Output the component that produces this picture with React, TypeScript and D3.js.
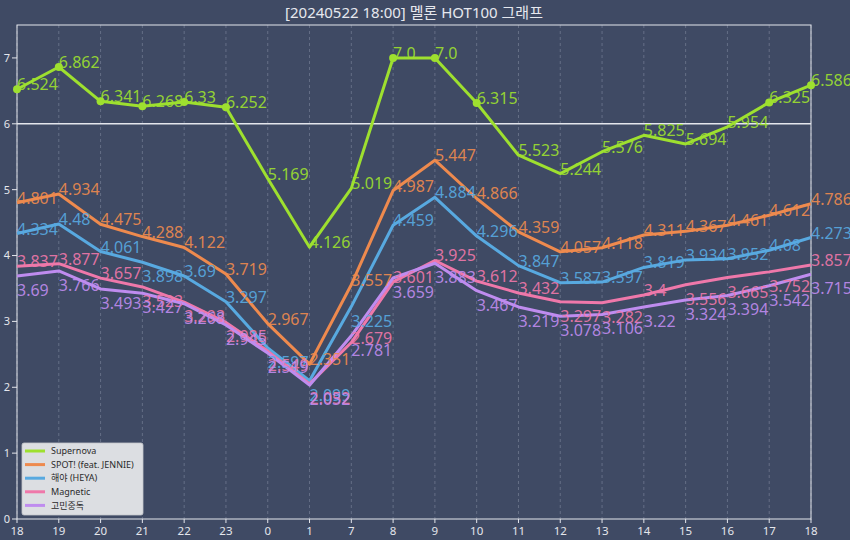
import React from 'react';
import * as d3 from 'd3';

const title = '[20240522 18:00] 멜론 HOT100 그래프';
const hours = ['18', '19', '20', '21', '22', '23', '0', '1', '7', '8', '9', '10', '11', '12', '13', '14', '15', '16', '17', '18'];
const seriesNames = ['Supernova', 'SPOT! (feat. JENNIE)', '해야 (HEYA)', 'Magnetic', '고민중독'];
const supernova = [6.524, 6.862, 6.341, 6.268, 6.33, 6.252, 5.169, 4.126, 5.019, 7.0, 7.0, 6.315, 5.523, 5.244, 5.576, 5.825, 5.694, 5.954, 6.325, 6.586];
const spot = [4.801, 4.934, 4.475, 4.288, 4.122, 3.719, 2.967, 2.351, 3.557, 4.987, 5.447, 4.866, 4.359, 4.057, 4.118, 4.311, 4.367, 4.461, 4.612, 4.786];
const heya = [4.334, 4.48, 4.061, 3.898, 3.69, 3.297, 2.597, 2.099, 3.225, 4.459, 4.884, 4.296, 3.847, 3.587, 3.597, 3.819, 3.934, 3.952, 4.08, 4.273];
const magnetic = [3.837, 3.877, 3.657, 3.523, 3.293, 2.985, 2.549, 2.052, 2.679, 3.601, 3.925, 3.612, 3.432, 3.297, 3.282, 3.4, 3.556, 3.665, 3.752, 3.857];
const gomin = [3.69, 3.766, 3.493, 3.427, 3.268, 2.945, 2.519, 2.032, 2.781, 3.659, 3.883, 3.467, 3.219, 3.078, 3.106, 3.22, 3.324, 3.394, 3.542, 3.715];
const yTicks = [0, 1, 2, 3, 4, 5, 6, 7];
const refLine = 6;

const colors = ['#9ee02f', '#ee8a4e', '#58a9e0', '#ef78aa', '#bf8cef'];
const allSeries = [supernova, spot, heya, magnetic, gomin];

const W = 850;
const H = 540;
const M = { left: 17, right: 39, top: 25, bottom: 21 };
const BG = '#3f4a64';
const FONT = '"Noto Sans", "Noto Sans CJK KR", sans-serif';

const fmt = (v: number) => (Number.isInteger(v) ? v.toFixed(1) : String(v));

export default function App() {
  const x = d3
    .scalePoint<number>()
    .domain(hours.map((_, i) => i))
    .range([M.left, W - M.right]);
  const y = d3.scaleLinear().domain([0, 7.5]).range([H - M.bottom, M.top]);
  const line = d3
    .line<number>()
    .x((_, i) => x(i) as number)
    .y((d) => y(d));

  const x0 = M.left;
  const x1 = W - M.right;
  const y0 = H - M.bottom;
  const y1 = M.top;

  return (
    <svg
      width={W}
      height={H}
      style={{ position: 'absolute', left: 0, top: 0, display: 'block' }}
      fontFamily={FONT}
    >
      <rect x={0} y={0} width={W} height={H} fill={BG} />
      <text x={(x0 + x1) / 2} y={18} textAnchor="middle" fontSize={15} fill="#e6e8ee">
        {title}
      </text>

      {/* vertical dashed grid */}
      {hours.map((_, i) => (
        <line
          key={'g' + i}
          x1={x(i)}
          x2={x(i)}
          y1={y1}
          y2={y0}
          stroke="#8f98ad"
          strokeOpacity={0.6}
          strokeWidth={0.8}
          strokeDasharray="3,3"
        />
      ))}

      {/* reference line */}
      <line x1={x0} x2={x1} y1={y(refLine)} y2={y(refLine)} stroke="#e4e6ec" strokeWidth={1.6} />

      {/* frame */}
      <rect x={x0} y={y1} width={x1 - x0} height={y0 - y1} fill="none" stroke="#e4e6ec" strokeWidth={1} />

      {/* y ticks */}
      {yTicks.map((t) => (
        <g key={'y' + t}>
          <line x1={x0 - 5} x2={x0} y1={y(t)} y2={y(t)} stroke="#e4e6ec" strokeWidth={1} />
          <text x={x0 - 7} y={y(t)} dy="0.35em" textAnchor="end" fontSize={11} fill="#e4e6ec">
            {t}
          </text>
        </g>
      ))}

      {/* x ticks */}
      {hours.map((h, i) => (
        <g key={'x' + i}>
          <line x1={x(i)} x2={x(i)} y1={y0} y2={y0 + 4} stroke="#e4e6ec" strokeWidth={1} />
          <text x={x(i)} y={y0 + 16} textAnchor="middle" fontSize={11.5} fill="#e4e6ec">
            {h}
          </text>
        </g>
      ))}

      {/* lines */}
      {allSeries.map((s, k) => (
        <path
          key={'l' + k}
          d={line(s) || ''}
          fill="none"
          stroke={colors[k]}
          strokeWidth={3}
          strokeLinejoin="round"
        />
      ))}

      {/* markers for values at or above reference */}
      {supernova.map((v, i) =>
        v >= refLine ? <circle key={'m' + i} cx={x(i)} cy={y(v)} r={4} fill={colors[0]} /> : null
      )}

      {/* value labels */}
      {allSeries.map((s, k) =>
        s.map((v, i) => {
          const below = k > 0 && allSeries[k - 1][i] - v < 0.4;
          return (
            <text
              key={'t' + k + '-' + i}
              x={x(i)}
              y={y(v) + (below ? 20 : 1)}
              fontSize={16}
              fill={colors[k]}
              fillOpacity={0.92}
            >
              {fmt(v)}
            </text>
          );
        })
      )}

      {/* legend */}
      <g>
        <rect x={22} y={443} width={121} height={72} rx={2} fill="#dcdee2" stroke="#c4c6cc" strokeWidth={0.8} />
        {seriesNames.map((n, k) => (
          <g key={'lg' + k}>
            <line x1={25} x2={45} y1={451 + k * 13.6} y2={451 + k * 13.6} stroke={colors[k]} strokeWidth={3} />
            <text x={51} y={451 + k * 13.6} dy="0.35em" fontSize={9} fill="#2a2a2a">
              {n}
            </text>
          </g>
        ))}
      </g>
    </svg>
  );
}
